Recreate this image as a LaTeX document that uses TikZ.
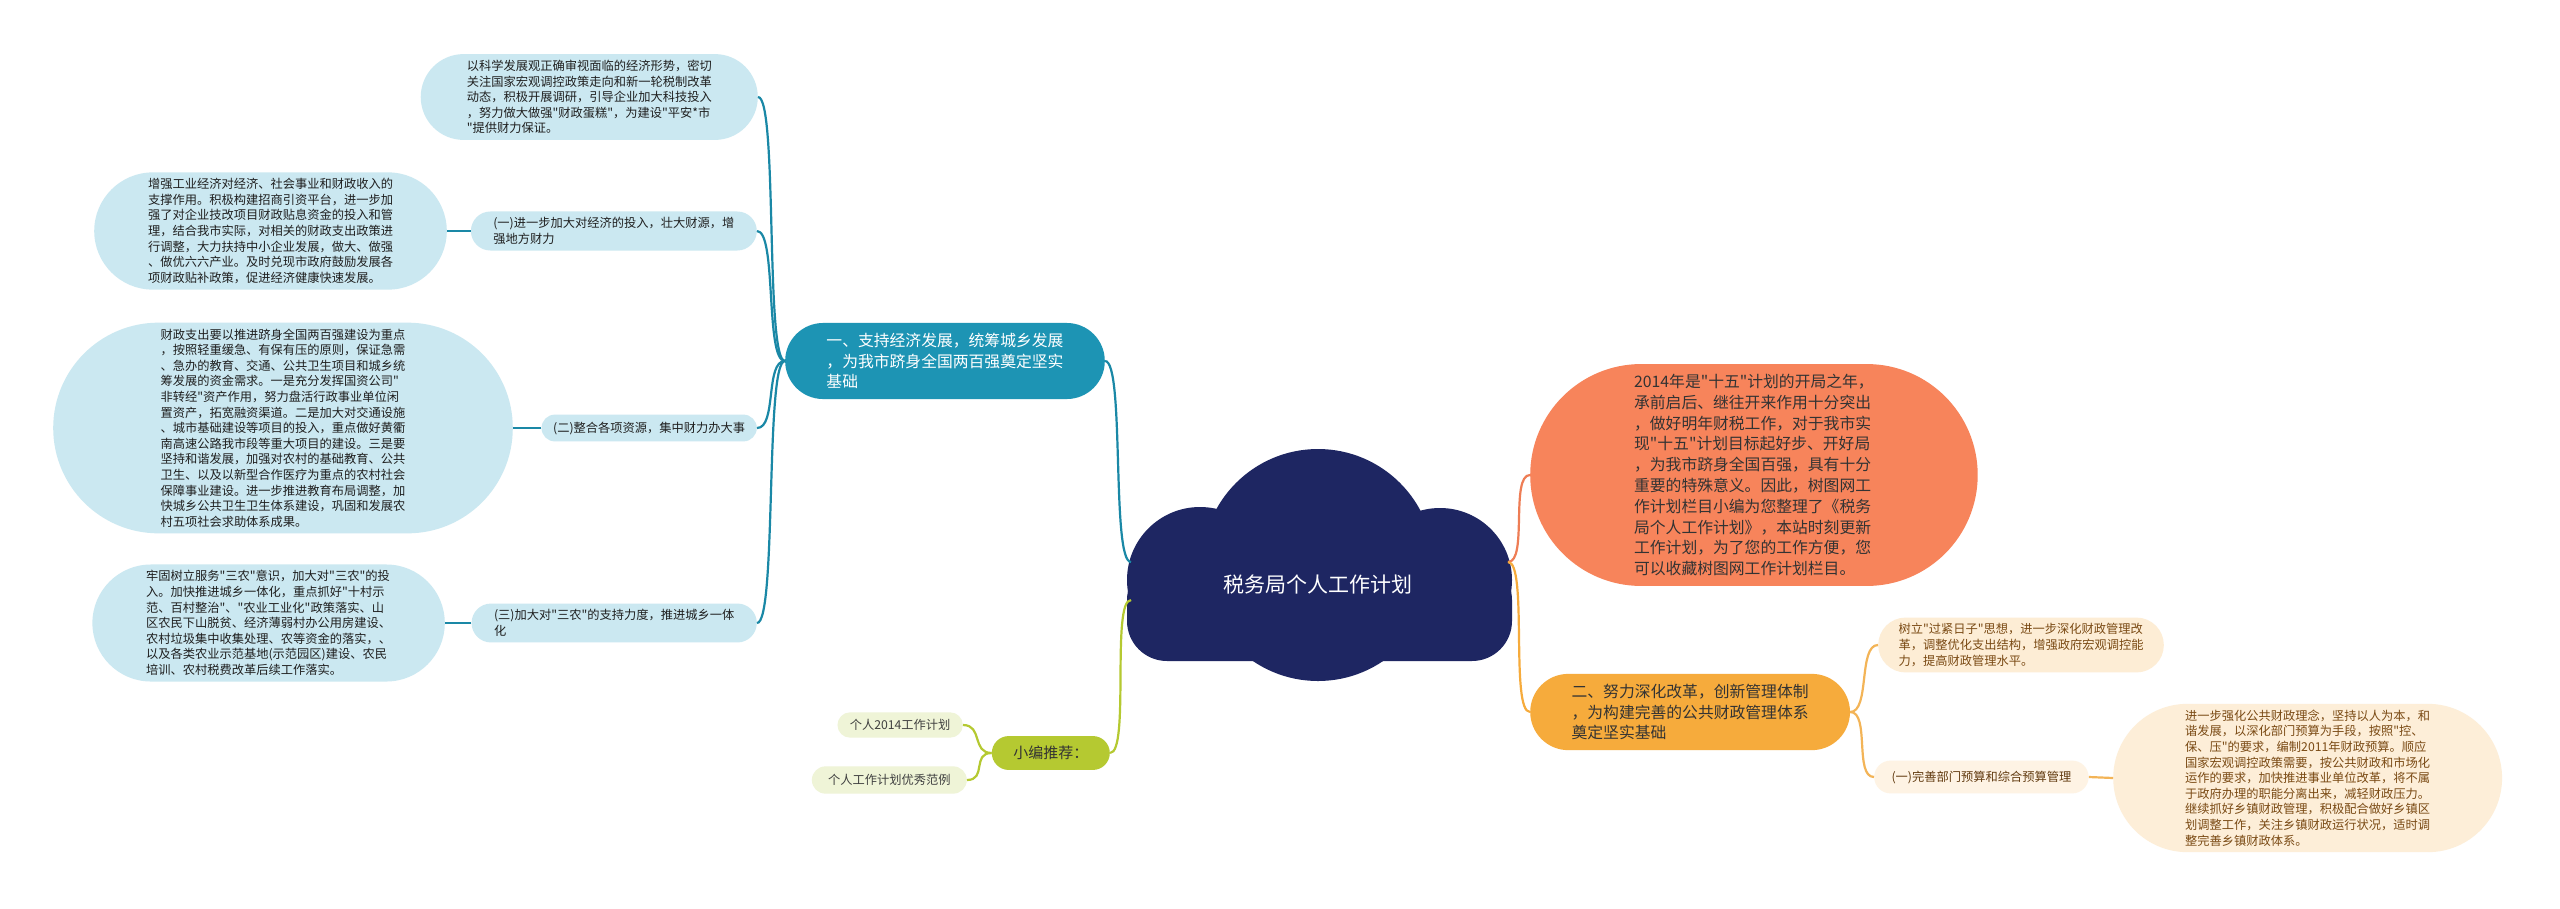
\documentclass[tikz,border=0pt]{standalone}
\usepackage{fontspec}
\setmainfont{Noto Sans CJK SC}[Ligatures=TeXOff]
\usetikzlibrary{shapes.misc}
\definecolor{cloudnavy}{HTML}{1E2662}
\definecolor{tealnode}{HTML}{1D94B4}
\definecolor{tealline}{HTML}{1A88A6}
\definecolor{skyleaf}{HTML}{CBE8F1}
\definecolor{coralnode}{HTML}{F7845B}
\definecolor{coralline}{HTML}{EE7D55}
\definecolor{ambernode}{HTML}{F6AB3C}
\definecolor{amberline}{HTML}{F3B457}
\definecolor{creamleaf}{HTML}{FDEDD5}
\definecolor{creampale}{HTML}{FEF3E4}
\definecolor{brownink}{HTML}{7A4A14}
\definecolor{olivenode}{HTML}{B5C931}
\definecolor{paleolive}{HTML}{EFF4D7}
\begin{document}
\begin{tikzpicture}[x=1pt, y=-1pt,
  pill/.style={rounded rectangle, inner xsep=#1, inner ysep=6pt, align=left},
  pill/.default=0pt,
  small/.style={font=\fontsize{12.25}{15.6}\selectfont},
  big/.style={font=\fontsize{15.8}{20.8}\selectfont},
  leaf/.style={pill=#1, small, fill=skyleaf, text=black!88},
  cream/.style={pill=#1, small, fill=creamleaf, text=brownink},
  link/.style={line width=2.2pt},
  bend/.style={link, out=#1, in=#1+180, distance=20pt}
]
\useasboundingbox (0,0) rectangle (2560,908);
\fill[white] (0,0) rectangle (2560,908);

\fill[cloudnavy] (1318,565) circle[radius=116pt];
\fill[cloudnavy] (1200,580) circle[radius=73pt];
\fill[cloudnavy] (1440,580) circle[radius=72pt];
\fill[cloudnavy, rounded corners=40pt] (1127,560) rectangle (1512,661);
\node[text=white, font=\fontsize{21}{25}\selectfont] (root) at (1318,585) {税务局个人工作计划};
\coordinate (rootL) at (1131,562);
\coordinate (rootLB) at (1131,600);
\coordinate (rootR) at (1508,562);

\node[pill=29pt, big, fill=tealnode, text=white, inner ysep=10pt, anchor=east] (one) at (1105,361)
  {一、支持经济发展，统筹城乡发展\\，为我市跻身全国两百强奠定坚实\\基础};
\node[leaf=25pt, anchor=east] (plan) at (758,97)
  {以科学发展观正确审视面临的经济形势，密切\\关注国家宏观调控政策走向和新一轮税制改革\\动态，积极开展调研，引导企业加大科技投入\\，努力做大做强"财政蛋糕"，为建设"平安*市\\"提供财力保证。};
\node[leaf=17pt, anchor=east] (subA) at (757,231) {(一)进一步加大对经济的投入，壮大财源，增\\强地方财力};
\node[leaf=10pt, anchor=east, inner ysep=7pt] (subB) at (757,428) {(二)整合各项资源，集中财力办大事};
\node[leaf=17pt, anchor=east] (subC) at (757,623) {(三)加大对"三农"的支持力度，推进城乡一体\\化};
\node[leaf=21pt, anchor=east] (leafA) at (447,231)
  {增强工业经济对经济、社会事业和财政收入的\\支撑作用。积极构建招商引资平台，进一步加\\强了对企业技改项目财政贴息资金的投入和管\\理，结合我市实际，对相关的财政支出政策进\\行调整，大力扶持中小企业发展，做大、做强\\、做优六六产业。及时兑现市政府鼓励发展各\\项财政贴补政策，促进经济健康快速发展。};
\node[leaf=37pt, anchor=east] (leafB) at (513,428)
  {财政支出要以推进跻身全国两百强建设为重点\\，按照轻重缓急、有保有压的原则，保证急需\\、急办的教育、交通、公共卫生项目和城乡统\\筹发展的资金需求。一是充分发挥国资公司"\\非转经"资产作用，努力盘活行政事业单位闲\\置资产，拓宽融资渠道。二是加大对交通设施\\、城市基础建设等项目的投入，重点做好黄衢\\南高速公路我市段等重大项目的建设。三是要\\坚持和谐发展，加强对农村的基础教育、公共\\卫生、以及以新型合作医疗为重点的农村社会\\保障事业建设。进一步推进教育布局调整，加\\快城乡公共卫生卫生体系建设，巩固和发展农\\村五项社会求助体系成果。};
\node[leaf=21pt, anchor=east] (leafC) at (445,623)
  {牢固树立服务"三农"意识，加大对"三农"的投\\入。加快推进城乡一体化，重点抓好"十村示\\范、百村整治"、"农业工业化"政策落实、山\\区农民下山脱贫、经济薄弱村办公用房建设、\\农村垃圾集中收集处理、农等资金的落实，、\\以及各类农业示范基地(示范园区)建设、农民\\培训、农村税费改革后续工作落实。};

\node[pill=39pt, big, fill=coralnode, text=black!80, inner ysep=10pt, anchor=west] (intro) at (1530,475)
  {2014年是"十五"计划的开局之年，\\承前启后、继往开来作用十分突出\\，做好明年财税工作，对于我市实\\现"十五"计划目标起好步、开好局\\，为我市跻身全国百强，具有十分\\重要的特殊意义。因此，树图网工\\作计划栏目小编为您整理了《税务\\局个人工作计划》，本站时刻更新\\工作计划，为了您的工作方便，您\\可以收藏树图网工作计划栏目。};
\node[pill=29pt, big, fill=ambernode, text=black!80, inner ysep=10pt, anchor=west] (two) at (1530,712)
  {二、努力深化改革，创新管理体制\\，为构建完善的公共财政管理体系\\奠定坚实基础};
\node[cream=10pt, anchor=west] (tight) at (1878,645)
  {树立"过紧日子"思想，进一步深化财政管理改\\革，调整优化支出结构，增强政府宏观调控能\\力，提高财政管理水平。};
\node[pill=16pt, small, fill=creampale, text=brownink!80!black, inner ysep=10pt, anchor=west] (subD) at (1874,777)
  {(一)完善部门预算和综合预算管理};
\node[cream=27pt, anchor=west, fill=creamleaf!80!creampale] (leafD) at (2113,778)
  {进一步强化公共财政理念，坚持以人为本，和\\谐发展，以深化部门预算为手段，按照"控、\\保、压"的要求，编制2011年财政预算。顺应\\国家宏观调控政策需要，按公共财政和市场化\\运作的要求，加快推进事业单位改革，将不属\\于政府办理的职能分离出来，减轻财政压力。\\继续抓好乡镇财政管理，积极配合做好乡镇区\\划调整工作，关注乡镇财政运行状况，适时调\\整完善乡镇财政体系。};

\node[pill=20pt, fill=olivenode, text=black!80, inner ysep=10pt, font=\fontsize{15}{18}\selectfont, anchor=east] (rec) at (1110,753) {小编推荐：};
\node[pill=11pt, small, fill=paleolive, text=black!75, inner ysep=7pt, anchor=east] (recA) at (963,725) {个人2014工作计划};
\node[pill=15pt, small, fill=paleolive, text=black!75, inner ysep=8pt, anchor=east] (recB) at (967,780) {个人工作计划优秀范例};

\draw[bend=180, tealline] (rootL) to (one.east);
\draw[bend=180, tealline] (one.west) to (plan.east);
\draw[bend=180, tealline] (one.west) to (subA.east);
\draw[bend=180, tealline] (one.west) to (subB.east);
\draw[bend=180, tealline] (one.west) to (subC.east);
\draw[link, tealline] (subA.west) -- (leafA.east);
\draw[link, tealline] (subB.west) -- (leafB.east);
\draw[link, tealline] (subC.west) -- (leafC.east);
\draw[bend=0, coralline] (rootR) to (intro.west);
\draw[bend=0, ambernode] (rootR) to (two.west);
\draw[bend=0, amberline] (two.east) to (tight.west);
\draw[bend=0, amberline] (two.east) to (subD.west);
\draw[link, amberline] (subD.east) -- (leafD.west);
\draw[bend=180, olivenode] (rootLB) to (rec.east);
\draw[bend=180, olivenode] (rec.west) to (recA.east);
\draw[bend=180, olivenode] (rec.west) to (recB.east);
\end{tikzpicture}
\end{document}
